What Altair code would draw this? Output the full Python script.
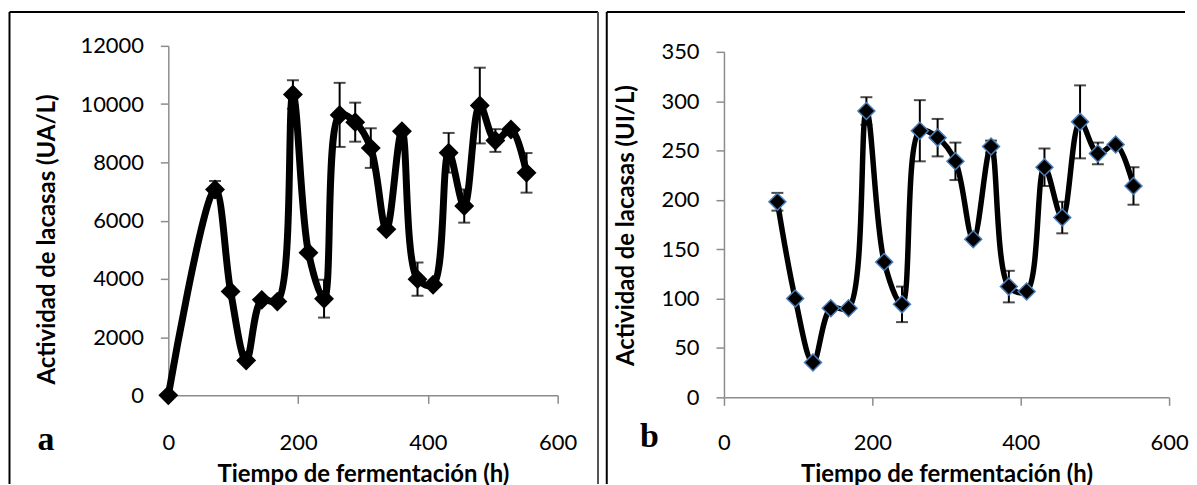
import altair as alt
import pandas as pd

# ---- data ----
hours = [0, 72, 96, 120, 144, 168, 192, 216, 240, 264, 288, 312, 336, 360,
         384, 408, 432, 456, 480, 504, 528, 552]
ua = [0, 7070, 3570, 1200, 3280, 3220, 10330, 4900, 3320, 9630, 9380, 8490,
      5700, 9070, 3990, 3800, 8330, 6500, 9950, 8750, 9130, 7640]
ua_err = [0, 290, 0, 0, 0, 0, 490, 0, 650, 1100, 670, 680, 0, 70, 570, 0,
          680, 570, 1300, 390, 0, 680]

hours_b = [72, 96, 120, 144, 168, 192, 216, 240, 264, 288, 312, 336, 360,
           384, 408, 432, 456, 480, 504, 528, 552]
ui = [198, 100, 35, 90, 90, 290, 137, 94, 270, 263, 239, 160, 254, 112, 107,
      233, 182, 279, 247, 256, 214]
ui_err = [9, 0, 0, 0, 0, 14, 0, 18, 31, 19, 19, 0, 6, 16, 0, 19, 16, 37, 11,
          0, 19]

x_ticks = [0, 200, 400, 600]
y_ticks_a = [0, 2000, 4000, 6000, 8000, 10000, 12000]
y_ticks_b = [0, 50, 100, 150, 200, 250, 300, 350]
x_title = "Tiempo de fermentación (h)"
y_title_a = "Actividad de lacasas (UA/L)"
y_title_b = "Actividad de lacasas (UI/L)"

AX = "#8c8c8c"
FONT = "Lato"


def make_df(h, v, e):
    df = pd.DataFrame({"h": h, "v": v, "e": e})
    df["lo"] = df["v"] - df["e"]
    df["hi"] = df["v"] + df["e"]
    return df


def panel(df, ymax, yticks, ytitle, width, height, yrange, lw, msize,
          mstroke, mstroke_w, letter, lx, ly, bl, bt, br, bb, title_y, ypad,
          xlpad, xtpad, right_border=True):
    xs = alt.Scale(domain=[0, 600], nice=False, zero=False)
    ys = alt.Scale(domain=[0, ymax], nice=False, range=yrange)
    xaxis = alt.Axis(values=x_ticks, title=x_title, grid=False, tickSize=8,
                     labelPadding=xlpad, titlePadding=xtpad,
                     labelFlush=False, labelOverlap=False,
                     domainColor=AX, tickColor=AX, domainWidth=1.5,
                     tickWidth=1.5, labelFont=FONT, labelFontSize=22,
                     labelColor="black", titleFont=FONT, titleFontSize=24,
                     titleFontWeight="bold", titleColor="black")
    yaxis = alt.Axis(values=yticks, title=ytitle, format="d", grid=False,
                     tickSize=8, labelPadding=17, titlePadding=ypad,
                     titleY=title_y, labelFlush=False, labelOverlap=False,
                     domainColor=AX, tickColor=AX, domainWidth=1.5,
                     tickWidth=1.5, labelFont=FONT, labelFontSize=22,
                     labelColor="black", titleFont=FONT, titleFontSize=24,
                     titleFontWeight="bold", titleColor="black")

    base = alt.Chart(df)
    line = base.mark_line(interpolate="catmull-rom", color="black",
                          strokeWidth=lw).encode(
        x=alt.X("h:Q", scale=xs, axis=xaxis),
        y=alt.Y("v:Q", scale=ys, axis=yaxis),
    )
    edf = df[df["e"] > 0]
    eb = alt.Chart(edf).mark_rule(color="black", strokeWidth=2).encode(
        x="h:Q", y="lo:Q", y2="hi:Q")
    cap_lo = alt.Chart(edf).mark_tick(color="black", thickness=2, size=12,
                                      orient="horizontal").encode(
        x="h:Q", y="lo:Q")
    cap_hi = alt.Chart(edf).mark_tick(color="black", thickness=2, size=12,
                                      orient="horizontal").encode(
        x="h:Q", y="hi:Q")
    pts = base.mark_point(shape="diamond", filled=True, fill="black",
                          stroke=mstroke, strokeWidth=mstroke_w, size=msize,
                          opacity=1).encode(x="h:Q", y="v:Q")

    one = pd.DataFrame({"k": [0]})
    deco = []
    deco.append(alt.Chart(one).mark_rule(color="black", strokeWidth=2).encode(
        x=alt.value(bl), x2=alt.value(br), y=alt.value(bt)))
    deco.append(alt.Chart(one).mark_rule(color="black", strokeWidth=2).encode(
        x=alt.value(bl), y=alt.value(bt), y2=alt.value(bb)))
    if right_border:
        deco.append(alt.Chart(one).mark_rule(color="#555555",
                                             strokeWidth=2).encode(
            x=alt.value(br), y=alt.value(bt), y2=alt.value(bb)))
    txt = alt.Chart(one).mark_text(text=letter, font="Liberation Serif",
                                   fontWeight="bold", fontSize=34,
                                   align="center", baseline="alphabetic",
                                   color="black").encode(
        x=alt.value(lx), y=alt.value(ly))
    return alt.layer(line, eb, cap_lo, cap_hi, pts, *deco, txt).properties(
        width=width, height=height)


dfa = make_df(hours, ua, ua_err)
dfb = make_df(hours_b, ui, ui_err)

pa = panel(dfa, 12000, y_ticks_a, y_title_a, 391, 351, [351, 0], 7, 400,
           "black", 0, "a", -123, 406, -159.5, -34, 431.5, 440, 194, 21,
           29, 9)
pb = panel(dfb, 350, y_ticks_b, y_title_b, 447, 353, [352.7, 6], 5.5, 290,
           "#4a7ebb", 1.5, "b", -75, 403, -117.7, -34, 463, 440, 180, 23,
           27, 9, right_border=False)

chart = alt.hconcat(pa, pb, spacing=6).properties(
    padding={"left": 0, "top": 2, "right": 0, "bottom": 0},
    background="white",
).configure_view(stroke=None)

chart.save("out.html", embed_options={"renderer": "svg", "actions": False})
